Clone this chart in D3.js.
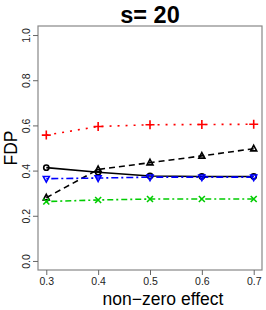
<!DOCTYPE html>
<html>
<head>
<meta charset="utf-8">
<script src="https://cdn.jsdelivr.net/npm/d3@7"></script>
<style>
  body { margin: 0; background: #fff; }
  svg { display: block; font-family: "Liberation Sans", Arial, sans-serif; }
</style>
</head>
<body>
<svg id="chart" width="266" height="310"></svg>
<script>
// data
const effects = [0.3, 0.4, 0.5, 0.6, 0.7]
const xTicks = [0.3, 0.4, 0.5, 0.6, 0.7]
const yTicks = [0.0, 0.2, 0.4, 0.6, 0.8, 1.0]

const redPlus = [0.557, 0.595, 0.603, 0.604, 0.605]
const blackCircle = [0.413, 0.393, 0.376, 0.374, 0.374]
const blackTriangle = [0.28, 0.405, 0.435, 0.465, 0.497]
const blueDown = [0.364, 0.367, 0.371, 0.371, 0.371]
const greenCross = [0.263, 0.27, 0.274, 0.274, 0.274]

const series = [
    { values: redPlus, color: '#ff0000', dash: '2,6', shape: 'plus' },
    { values: blackCircle, color: '#000', dash: null, shape: 'circle' },
    { values: blackTriangle, color: '#000', dash: '6,4', shape: 'triangle' },
    { values: blueDown, color: '#0000ff', dash: '2,3,7,3', shape: 'down' },
    { values: greenCross, color: '#00cc00', dash: '2,3,6,3', shape: 'cross' }
]

const svg = d3.select('#chart')
const box = { left: 38, right: 262, top: 26, bottom: 270 }

// R style: axis range extended by 4%
const x = d3.scaleLinear().domain([0.284, 0.716]).range([box.left, box.right])
const y = d3.scaleLinear().domain([-0.04, 1.04]).range([box.bottom, box.top])

// frame
svg.append('rect')
    .attr('x', box.left).attr('y', box.top)
    .attr('width', box.right - box.left).attr('height', box.bottom - box.top)
    .attr('fill', 'none').attr('stroke', '#888').attr('stroke-width', 1.2)

// x axis
const xAxis = svg.append('g')
    .attr('transform', `translate(0,${box.bottom})`)
    .call(d3.axisBottom(x).tickValues(xTicks).tickFormat(d3.format('.1f')).tickSize(5).tickPadding(3))
xAxis.select('.domain').remove()
xAxis.selectAll('line').attr('stroke', '#666')
xAxis.selectAll('text').attr('font-size', 10.5).attr('fill', '#222')
    .attr('font-family', '"Liberation Sans", Arial, sans-serif')

// y axis
const yAxis = svg.append('g')
    .attr('transform', `translate(${box.left},0)`)
    .call(d3.axisLeft(y).tickValues(yTicks).tickFormat(d3.format('.1f')).tickSize(5))
yAxis.select('.domain').remove()
yAxis.selectAll('line').attr('stroke', '#666')
yAxis.selectAll('text')
    .attr('font-size', 10.5).attr('fill', '#222')
    .attr('font-family', '"Liberation Sans", Arial, sans-serif')
    .attr('text-anchor', 'middle')
    .attr('x', null).attr('dy', null)
    .attr('transform', 'translate(-11,0) rotate(-90)')
    .attr('dominant-baseline', 'middle')

// lines
const line = d3.line().x((d, i) => x(effects[i])).y(d => y(d))

for (const s of series) {
    svg.append('path')
        .datum(s.values)
        .attr('d', line)
        .attr('fill', 'none')
        .attr('stroke', s.color)
        .attr('stroke-width', 1.6)
        .attr('stroke-dasharray', s.dash)
}

// markers
const r = 3
for (const s of series) {
    const g = svg.append('g').attr('stroke', s.color).attr('stroke-width', 1.6).attr('fill', 'none')
    s.values.forEach((v, i) => {
        const cx = x(effects[i]), cy = y(v)
        if (s.shape === 'circle') {
            g.append('circle').attr('cx', cx).attr('cy', cy).attr('r', 2.6)
        } else if (s.shape === 'plus') {
            g.append('path').attr('d', `M${cx - 4.5},${cy}H${cx + 4.5}M${cx},${cy - 4.5}V${cy + 4.5}`)
        } else if (s.shape === 'cross') {
            g.append('path').attr('d', `M${cx - r},${cy - r}L${cx + r},${cy + r}M${cx - r},${cy + r}L${cx + r},${cy - r}`)
        } else if (s.shape === 'triangle') {
            g.append('path').attr('d', `M${cx},${cy - 3.4}L${cx + 3},${cy + 2.2}L${cx - 3},${cy + 2.2}Z`)
        } else if (s.shape === 'down') {
            g.append('path').attr('d', `M${cx},${cy + 3.4}L${cx + 3},${cy - 2.2}L${cx - 3},${cy - 2.2}Z`)
        }
    })
}

// titles
svg.append('text')
    .attr('x', (box.left + box.right) / 2).attr('y', 23)
    .attr('text-anchor', 'middle')
    .attr('font-size', 23.5).attr('font-weight', 'bold')
    .text('s= 20')

svg.append('text')
    .attr('x', 163).attr('y', 305)
    .attr('text-anchor', 'middle')
    .attr('font-size', 17.5)
    .text('non\u2212zero effect')

svg.append('text')
    .attr('transform', `translate(17,${(box.top + box.bottom) / 2}) rotate(-90)`)
    .attr('text-anchor', 'middle')
    .attr('font-size', 17.5)
    .text('FDP')
</script>
</body>
</html>
